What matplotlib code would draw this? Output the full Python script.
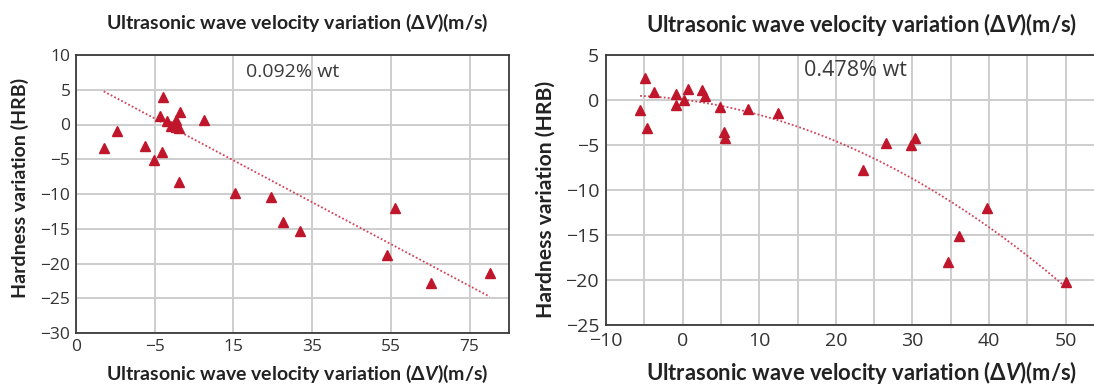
import numpy as np
import matplotlib
matplotlib.use("Agg")
import matplotlib.pyplot as plt

# ---------------- data ----------------
# Left panel (0.092% wt)
left_x = [-17.96, -14.5, -7.36, -5.07, -3.54, -2.78, -3.03, -1.93, -0.91, -0.23,
          0.45, 0.45, 1.04, 1.46, 1.04, 7.49, 15.29, 24.62, 27.5, 31.83,
          53.88, 56.08, 65.07, 80.09]
left_y = [-3.38, -0.98, -3.05, -5.1, 1.27, 3.9, -4.0, 0.55, -0.17, -0.07,
          0.7, -0.4, -0.55, 1.85, -8.32, 0.7, -9.9, -10.48, -14.1, -15.3,
          -18.8, -12.06, -22.8, -21.3]
left_trend_x = [-17.96, 80.09]
left_trend_y = [4.77, -24.77]
left_xticks = [-25, -5, 15, 35, 55, 75]
left_xticklabels = ["0", "\u22125", "15", "35", "55", "75"]
left_yticks = [10, 5, 0, -5, -10, -15, -20, -25, -30]
left_label = "0.092% wt"

# Right panel (0.478% wt)
right_x = [-5.56, -4.85, -4.71, -3.77, -0.85, -0.80, 0.24, 0.75, 2.50, 2.92,
           4.94, 5.46, 5.51, 8.57, 12.48, 23.59, 26.51, 29.80, 30.27, 34.60,
           36.11, 39.74, 50.09]
right_y = [-1.11, 2.41, -3.11, 0.85, 0.63, -0.56, 0.04, 1.22, 1.15, 0.41,
           -0.81, -3.52, -4.26, -1.04, -1.48, -7.78, -4.81, -5.04, -4.19, -18.0,
           -15.07, -11.96, -20.26]
# points (quadratic)
right_trend_x = [-5.56, 0.0, 19.6, 29.8, 39.9, 50.09]
right_trend_y = [0.4, 0.1, -4.4, -8.5, -14.4, -20.7]
right_xticks = [-10, 0, 10, 20, 30, 40, 50]
right_yticks = [5, 0, -5, -10, -15, -20, -25]
right_label = "0.478% wt"

# ---------------- style ----------------
RED = "#C0162C"
TREND = "#D2425A"
GRID = "#CDCDCD"
SPINE = "#3a3a3a"
TXT = "#333333"
TICKFONT = ["Open Sans", "DejaVu Sans"]
LABFONT = ["Lato", "DejaVu Sans"]

plt.rcParams["mathtext.fontset"] = "custom"
plt.rcParams["mathtext.it"] = "Lato:italic:bold"
plt.rcParams["mathtext.rm"] = "Lato:bold"
plt.rcParams["mathtext.bf"] = "Lato:bold"

XLABEL = "Ultrasonic wave velocity variation (\u0394$\\mathit{V}$)(m/s)"
YLABEL = "Hardness variation (HRB)"

fig = plt.figure(figsize=(10.94, 3.86), dpi=100)

W, H = 1094.0, 386.0


def ax_rect(l, r, t, b):
    return [l / W, 1 - b / H, (r - l) / W, (b - t) / H]


def style(ax, size, pad):
    ax.set_facecolor("white")
    for s in ax.spines.values():
        s.set_color(SPINE)
        s.set_linewidth(1.3)
    ax.tick_params(which="both", length=0, labelsize=size, labelcolor=TXT, pad=pad)
    for lab in ax.get_xticklabels() + ax.get_yticklabels():
        lab.set_family(TICKFONT)
    ax.grid(True, which="both", color=GRID, linewidth=1.4)
    ax.set_axisbelow(True)


# ---- Left panel ----
axL = fig.add_axes(ax_rect(76, 509, 55, 333))
axL.set_xlim(-25, 85)
axL.set_ylim(-30, 10)
axL.set_xticks(left_xticks)
axL.set_xticklabels(left_xticklabels)
axL.set_yticks(left_yticks)
style(axL, 12.5, 4)
axL.plot(left_trend_x, left_trend_y, linestyle=(0, (1, 1.2)), color=TREND, lw=1.3, zorder=3)
axL.plot(left_x, left_y, linestyle="none", marker="^", color=RED, markersize=7.5, zorder=4)
axL.text(30, 7.6, left_label, ha="center", va="center", fontsize=14,
         family=TICKFONT, color="#3a3a3a")

# ---- Right panel ----
axR = fig.add_axes(ax_rect(606, 1104, 55, 325))
axR.set_xlim(-10, 55)
axR.set_ylim(-25, 5)
axR.set_xticks(right_xticks)
axR.set_xticks(np.arange(-5, 56, 10), minor=True)
axR.set_yticks(right_yticks)
style(axR, 14, 5)
cR = np.polyfit(right_trend_x, right_trend_y, 2)
tx2 = np.linspace(right_trend_x[0], right_trend_x[-1], 200)
axR.plot(tx2, np.polyval(cR, tx2), linestyle=(0, (1, 1.2)), color=TREND, lw=1.3, zorder=3)
axR.plot(right_x, right_y, linestyle="none", marker="^", color=RED, markersize=7.5, zorder=4)
axR.text(22.6, 3.3, right_label, ha="center", va="center", fontsize=15.5,
         family=TICKFONT, color="#3a3a3a")

# ---- labels ----
for cx, cy, fs in [(297, 23, 14), (297, 374, 14), (862, 24, 15.8), (862, 372, 15.8)]:
    fig.text(cx / W, 1 - cy / H, XLABEL, ha="center", va="center", fontsize=fs,
             fontweight="bold", family=LABFONT, color="#222222")
fig.text(20 / W, 1 - 188 / H, YLABEL, ha="center", va="center", rotation=90,
         fontsize=14, fontweight="bold", family=LABFONT, color="#222222")
fig.text(546 / W, 1 - 199 / H, YLABEL, ha="center", va="center", rotation=90,
         fontsize=15.2, fontweight="bold", family=LABFONT, color="#222222")

fig.savefig("out.png", dpi=100, facecolor="white")
